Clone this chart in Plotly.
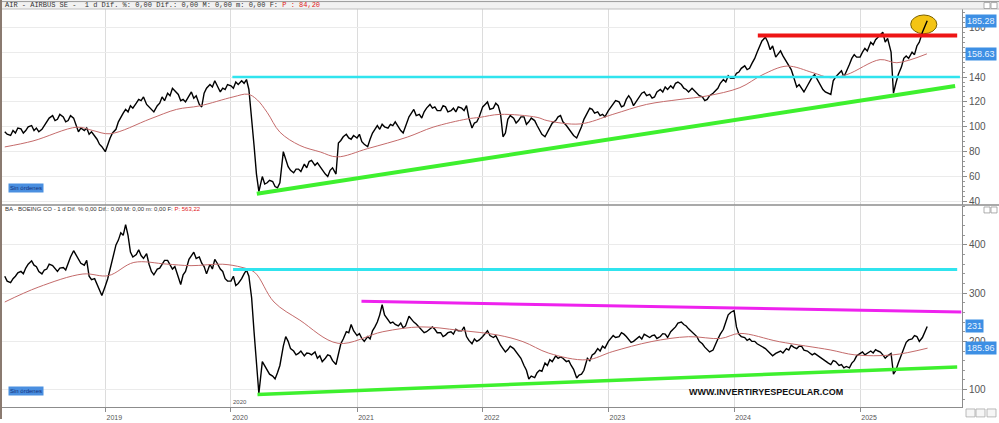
import plotly.graph_objects as go
import pandas as pd

# ---------------- data ----------------
# weekly-ish sampling: the 1st, 8th, 15th and 22nd of each month
_sms = pd.date_range("2018-03-15", "2025-07-15", freq="SMS")
dates = sorted(list(_sms) + [d + pd.Timedelta(days=7) for d in _sms[:-1]])

airbus = [
    96, 94,                                   # 2018 Mar
    93, 97, 95, 99,   98.4, 95, 97, 100,   101, 97, 99, 96,   98, 101, 104, 107,
    109, 105, 106, 110,   108, 104, 105, 109,   107, 101, 96, 99,   97, 99, 94, 96,   93, 90, 86, 84,
    # 2019
    80, 86, 91, 95,   98, 104, 108, 111,   114, 112, 117, 115,   119, 122, 121, 124,
    118, 116, 114, 112,   117, 119, 124, 121,   127, 125, 131, 129,   126, 121, 122, 120,
    125, 128, 123, 125,   118, 116, 127, 131,   134, 132, 137, 133,   128, 131, 130, 134,
    # 2020
    133, 131, 136, 134,   137, 135, 138, 130,   108, 85, 62, 48,   60, 54, 55, 57,
    56, 52, 51, 55,   80, 74, 68, 65,   63, 66, 66, 64,   70, 67, 72, 73,
    69, 71, 68, 66,   62, 60, 65, 67,   62, 87, 89, 92,   94, 91, 90, 93,
    # 2021
    91, 94, 88, 86,   84, 90, 95, 98,   101, 98, 102, 100,   99, 102, 101, 104,
    100, 97, 95, 101,   108, 111, 114, 109,   110, 107, 112, 115,   118, 115, 116, 113,
    113, 117, 116, 112,   113, 115, 112, 116,   115, 113, 117, 107,   99, 103, 104, 108,
    # 2022
    116, 118, 120, 114,   115, 119, 117, 110,   92, 95, 106, 109,   107, 103, 105, 108,
    108, 102, 104, 107,   105, 101, 97, 94,   92, 96, 100, 103,   105, 108, 109, 104,
    101, 98, 95, 93,   91, 95, 100, 106,   112, 115, 114, 111,   112, 109, 110, 108,
    # 2023
    113, 116, 118, 121,   120, 116, 117, 122,   125, 122, 117, 120,   124, 127, 128, 125,
    126, 123, 124, 128,   130, 128, 132, 130,   133, 131, 135, 136,   134, 131, 130, 128,
    131, 129, 127, 125,   124, 121, 122, 125,   127, 129, 131, 135,   138, 136, 141, 139,
    # 2024
    139, 143, 144, 147,   149, 146, 147, 151,   155, 160, 165, 169,   172, 168, 162, 165,
    156, 159, 161, 157,   152, 149, 146, 140,   132, 134, 131, 128,   133, 137, 140, 142,
    137, 134, 130, 128,   127, 126, 137, 140,   143, 145, 140, 144,   150, 155, 158, 156,
    # 2025
    156, 160, 163, 161,   168, 166, 170, 172,   174, 176, 168, 171,   160, 127, 135, 142,
    148, 155, 157, 155,   160, 158, 165, 168,   176, 181, 185.28,
]

boeing = [
    335, 325,                                 # 2018 Mar
    322, 330, 335, 342,   345, 340, 352, 360,   367, 358, 355, 345,   340, 348, 350, 360,
    357, 350, 345, 352,   353, 348, 362, 375,   388, 380, 370, 362,   358, 368, 335, 328,   330, 318, 305, 295,
    # 2019
    315, 330, 350, 370,   400, 410, 425, 420,   442, 420, 385, 375,   380, 390, 378, 372,
    382, 360, 345, 338,   350, 352, 360, 368,   368, 360, 350, 355,   330, 318, 338, 345,
    370, 378, 385, 372,   375, 362, 355, 340,   360, 350, 370, 362,   350, 345, 330, 325,
    # 2020
    325, 335, 316, 320,   330, 340, 348, 335,   290, 220, 150, 92,   158, 150, 140, 132,
    128, 122, 135, 150,   190, 210, 200, 185,   180, 172, 175, 180,   170, 176, 175, 172,
    178, 165, 170, 158,   165, 172, 170, 160,   152, 175, 195, 205,   220, 218, 235, 222,
    # 2021
    212, 216, 206, 200,   210, 205, 222, 230,   240, 255, 276, 255,   245, 238, 240, 235,
    232, 238, 228, 232,   252, 245, 240, 236,   228, 222, 218, 220,   225, 230, 225, 218,
    218, 210, 213, 218,   220, 215, 225, 222,   222, 230, 210, 202,   195, 205, 200, 203,
    # 2022
    210, 215, 222, 212,   208, 212, 200, 192,   185, 178, 183, 190,   185, 178, 172, 165,
    150, 140, 122, 128,   125, 135, 140, 138,   155, 150, 162, 158,   170, 165, 168, 165,
    158, 160, 150, 142,   124, 130, 132, 140,   165, 160, 172, 175,   185, 180, 190, 186,
    # 2023
    200, 205, 212, 208,   210, 218, 215, 210,   205, 198, 200, 205,   210, 205, 215, 212,
    208, 212, 213, 206,   210, 216, 215, 208,   220, 225, 230, 238,   240, 235, 232, 226,
    220, 215, 210, 200,   195, 188, 182, 178,   182, 195, 205, 215,   225, 240, 255, 260,
    # 2024
    264, 230, 215, 210,   208, 202, 205, 200,   200, 195, 192, 188,   185, 180, 175, 170,
    175, 178, 180, 176,   185, 182, 192, 188,   185, 190, 190, 182,   180, 176, 172, 175,
    170, 165, 162, 158,   155, 152, 160, 158,   150, 152, 145, 148,   145, 155, 160, 170,
    # 2025
    175, 178, 172, 176,   180, 176, 183, 180,   178, 172, 165, 170,   175, 132, 140, 155,
    170, 185, 198, 203,   205, 212, 210, 200,   208, 220, 231,
]

airbus_ma_dates = ["2018-03-15", "2018-06-05", "2018-10-11", "2018-11-26", "2019-01-15", "2019-05-11",
                   "2019-07-27", "2019-10-02", "2020-01-07", "2020-02-19", "2020-03-16", "2020-04-15",
                   "2020-05-22", "2020-07-19", "2020-09-16", "2020-11-04", "2021-01-31", "2021-05-27",
                   "2021-08-10", "2021-11-17", "2021-12-24", "2022-02-21", "2022-06-08", "2022-07-07",
                   "2022-10-11", "2023-01-14", "2023-04-22", "2023-07-28", "2023-10-14", "2024-01-18",
                   "2024-03-25", "2024-06-03", "2024-08-17", "2024-10-06", "2024-11-24", "2025-02-28",
                   "2025-04-18", "2025-07-14"]
airbus_ma = [83.8, 88.6, 99.7, 97, 94.4, 106.3, 114, 116.8, 124, 126.2, 122, 111.6,
             95.7, 85, 79.8, 75.8, 82.4, 91.7, 99.7, 106.3, 107.6, 110, 107.6, 105,
             102.3, 110, 118, 122, 124.8, 131.5, 142, 148.8, 143.5, 139.5, 142, 154,
             151.5, 158.63]

boeing_ma_dates = ["2018-03-15", "2018-06-20", "2018-10-28", "2019-01-10", "2019-03-25", "2019-06-27",
                   "2019-09-07", "2019-12-08", "2020-02-02", "2020-03-10", "2020-05-05", "2020-07-19",
                   "2020-11-07", "2021-03-17", "2021-07-06", "2021-10-24", "2022-02-15", "2022-04-28",
                   "2022-07-12", "2022-10-30", "2023-01-14", "2023-05-05", "2023-08-22", "2023-11-23",
                   "2024-01-18", "2024-05-11", "2024-10-06", "2024-12-17", "2025-04-07", "2025-07-16"]
boeing_ma = [281.6, 312.3, 339.7, 336.3, 363.7, 360.3, 357, 360, 353.4, 343, 281.6, 244,
             196, 220, 230, 223, 213, 199.4, 175.5, 161.8, 179, 199.4, 209.7, 206,
             216.5, 199.4, 182.3, 172, 172, 185.96]

# trend / level lines: ([start date, end date], [start value, end value])
air_cyan = (["2020-01-05", "2025-10-18"], [140, 140])
air_red = (["2024-03-10", "2025-10-10"], [173.4, 173.4])
air_green = (["2020-03-16", "2025-10-04"], [46.1, 132.8])
ba_cyan = (["2020-01-07", "2025-10-10"], [349, 349])
ba_magenta = (["2021-01-14", "2025-10-22"], [283, 261])
ba_green = (["2020-03-18", "2025-10-10"], [90, 147])

highlight = {"x0": "2025-05-28", "x1": "2025-08-12", "y0": 174.8, "y1": 189.9}

year_ticks = ["2019-01-01", "2020-01-01", "2021-01-01", "2022-01-01", "2023-01-01", "2024-01-01", "2025-01-01"]
year_labels = ["2019", "2020", "2021", "2022", "2023", "2024", "2025"]

air_last, air_ma_last = "185.28", "158.63"
ba_last, ba_ma_last = "231", "185.96"

assert len(airbus) == len(dates) and len(boeing) == len(dates)

# ---------------- figure ----------------
FONT = "Liberation Sans, Arial, sans-serif"
PRICE_W = 1.4
MA_COL = "#c46b6b"

fig = go.Figure()

# --- top: Airbus
fig.add_trace(go.Scatter(x=dates, y=airbus, mode="lines", line=dict(color="black", width=PRICE_W),
                         xaxis="x", yaxis="y", showlegend=False))
fig.add_trace(go.Scatter(x=airbus_ma_dates, y=airbus_ma, mode="lines", line=dict(color=MA_COL, width=1, shape="spline"),
                         xaxis="x", yaxis="y", showlegend=False))
fig.add_trace(go.Scatter(x=air_cyan[0], y=air_cyan[1], mode="lines", line=dict(color="#30e4ee", width=2.5),
                         xaxis="x", yaxis="y", showlegend=False))
fig.add_trace(go.Scatter(x=air_red[0], y=air_red[1], mode="lines", line=dict(color="#ee1515", width=4),
                         xaxis="x", yaxis="y", showlegend=False))
fig.add_trace(go.Scatter(x=air_green[0], y=air_green[1], mode="lines", line=dict(color="#3ef02e", width=4),
                         xaxis="x", yaxis="y", showlegend=False))

# --- bottom: Boeing
fig.add_trace(go.Scatter(x=dates, y=boeing, mode="lines", line=dict(color="black", width=PRICE_W),
                         xaxis="x2", yaxis="y2", showlegend=False))
fig.add_trace(go.Scatter(x=boeing_ma_dates, y=boeing_ma, mode="lines", line=dict(color=MA_COL, width=1, shape="spline"),
                         xaxis="x2", yaxis="y2", showlegend=False))
fig.add_trace(go.Scatter(x=ba_cyan[0], y=ba_cyan[1], mode="lines", line=dict(color="#30e4ee", width=3),
                         xaxis="x2", yaxis="y2", showlegend=False))
fig.add_trace(go.Scatter(x=ba_magenta[0], y=ba_magenta[1], mode="lines", line=dict(color="#ee22ee", width=3),
                         xaxis="x2", yaxis="y2", showlegend=False))
fig.add_trace(go.Scatter(x=ba_green[0], y=ba_green[1], mode="lines", line=dict(color="#3ef02e", width=3.5),
                         xaxis="x2", yaxis="y2", showlegend=False))

PH = 402.0  # plot height in px
PW = 960.0  # plot width in px

xcommon = dict(type="date", range=["2018-03-07", "2025-10-24"], tickvals=year_ticks, ticktext=year_labels,
               showgrid=True, gridcolor="#dcdcdc", gridwidth=1, zeroline=False)
ycommon = dict(side="right", showgrid=True, gridcolor="#ebebeb", zeroline=False, showline=True,
               linecolor="#8c8c8c", linewidth=1, ticks="outside", ticklen=4, tickcolor="#8c8c8c",
               tickfont=dict(family=FONT, size=10, color="#555555"))

fig.update_layout(
    width=999, height=423,
    margin=dict(l=2, r=37, t=9, b=12),
    paper_bgcolor="white", plot_bgcolor="white",
    xaxis=dict(**xcommon, domain=[0, 1], anchor="y", showticklabels=False, ticks="", matches="x2"),
    yaxis=dict(**ycommon, domain=[0.5087, 1], anchor="x", range=[37.5, 194.7], dtick=20, tick0=0,
               minor=dict(ticks="outside", ticklen=2, dtick=4, tickcolor="#999999", showgrid=False)),
    xaxis2=dict(**xcommon, domain=[0, 1], anchor="y2", showticklabels=True, ticks="outside", ticklen=4,
                tickcolor="#8c8c8c", showline=True, linecolor="#8c8c8c",
                tickfont=dict(family=FONT, size=7, color="#555555"), ticklabelshift=9, ticklabelstandoff=0),
    yaxis2=dict(**ycommon, domain=[0, 0.5062], anchor="x2", range=[63.9, 481.7], dtick=100, tick0=0,
                minor=dict(ticks="outside", ticklen=2, dtick=20, tickcolor="#999999", showgrid=False)),
)

shapes = []
# header strip
shapes.append(dict(type="rect", xref="paper", yref="paper", x0=-2 / PW, x1=997 / PW, y0=1, y1=1 + 9 / PH,
                   fillcolor="#f1f1f1", line=dict(width=0), layer="below"))
shapes.append(dict(type="line", xref="paper", yref="paper", x0=-2 / PW, x1=997 / PW, y0=1 + 7.5 / PH, y1=1 + 7.5 / PH,
                   line=dict(color="#9a9a9a", width=1)))
shapes.append(dict(type="line", xref="paper", yref="paper", x0=-2 / PW, x1=997 / PW, y0=1, y1=1,
                   line=dict(color="#bdbdbd", width=1)))
# panel separator
shapes.append(dict(type="line", xref="paper", yref="paper", x0=-2 / PW, x1=997 / PW, y0=0.5075, y1=0.5075,
                   line=dict(color="#8c8c8c", width=1.5)))
# left border
shapes.append(dict(type="line", xref="paper", yref="paper", x0=-1 / PW, x1=-1 / PW, y0=-12 / PH, y1=1 + 9 / PH,
                   line=dict(color="#8a7a70", width=2)))
# highlight circle
shapes.append(dict(type="circle", xref="x", yref="y", x0=highlight["x0"], x1=highlight["x1"],
                   y0=highlight["y0"], y1=highlight["y1"], fillcolor="#f4c414",
                   line=dict(color="#7a6000", width=1), layer="between"))
# window buttons
for yb in [1 + 0.5 / PH, 0.5075 - 8 / PH]:
    for xb in [984, 991]:
        shapes.append(dict(type="rect", xref="paper", yref="paper", x0=(xb - 2) / PW, x1=(xb + 4) / PW,
                           y0=yb, y1=yb + 6 / PH, line=dict(color="#999999", width=0.8), fillcolor="white"))
for xb in [966, 976, 987]:
    shapes.append(dict(type="rect", xref="paper", yref="paper", x0=(xb - 2) / PW, x1=(xb + 7) / PW,
                       y0=-10 / PH, y1=-2 / PH, line=dict(color="#aaaaaa", width=0.8), fillcolor="#f6f6f6"))
fig.update_layout(shapes=shapes)

ann = []
ann.append(dict(xref="paper", yref="paper", x=1 / PW, y=1 + 4.2 / PH, xanchor="left", yanchor="middle",
                showarrow=False, align="left",
                text="AIR - AIRBUS SE -  1 d Dif. %: 0,00 Dif.: 0,00 M: 0,00 m: 0,00 F: <span style='color:#e02020'>P : 84,20</span>",
                font=dict(family="Liberation Mono, DejaVu Sans Mono, monospace", size=7, color="#333333")))
ann.append(dict(xref="paper", yref="paper", x=1 / PW, y=(411 - 211) / PH, xanchor="left", yanchor="middle",
                showarrow=False, align="left",
                text="BA - BOEING CO - 1 d Dif. % 0,00 Dif.: 0,00 M: 0,00 m: 0,00 F: <span style='color:#e02020'>P: 563,22</span>",
                font=dict(family=FONT, size=6, color="#333333")))
for ytxt in [(411 - 189.5) / PH, (411 - 395) / PH]:
    ann.append(dict(xref="paper", yref="paper", x=6 / PW, y=ytxt, xanchor="left", yanchor="middle",
                    showarrow=False, text="Sin órdenes", bgcolor="#4a8fe0", borderpad=1,
                    font=dict(family=FONT, size=6, color="#12307a")))
ann.append(dict(xref="paper", yref="paper", x=(766 - 2) / PW, y=(411 - 396) / PH, xanchor="center", yanchor="middle",
                showarrow=False, text="<b>WWW.INVERTIRYESPECULAR.COM</b>",
                font=dict(family=FONT, size=9, color="#111111")))
ann.append(dict(xref="x2", yref="paper", x="2020-01-01", y=(411 - 406) / PH, xanchor="left", yanchor="middle",
                showarrow=False, text="2020", font=dict(family=FONT, size=6, color="#555555")))
for txt, yv, yr in [(air_last, float(air_last), "y"), (air_ma_last, float(air_ma_last), "y"),
                    (ba_last, float(ba_last), "y2"), (ba_ma_last, float(ba_ma_last), "y2")]:
    ann.append(dict(xref="paper", yref=yr, x=1 + 3 / PW, y=yv, xanchor="left", yanchor="middle",
                    showarrow=False, text=txt, bgcolor="#3d8fe4", borderpad=1,
                    font=dict(family=FONT, size=9, color="#e8f2ff")))
fig.update_layout(annotations=ann)

fig.write_html("out.html", config={"displayModeBar": False},
               post_script="document.body.style.margin='0px';document.body.style.overflow='hidden';")
